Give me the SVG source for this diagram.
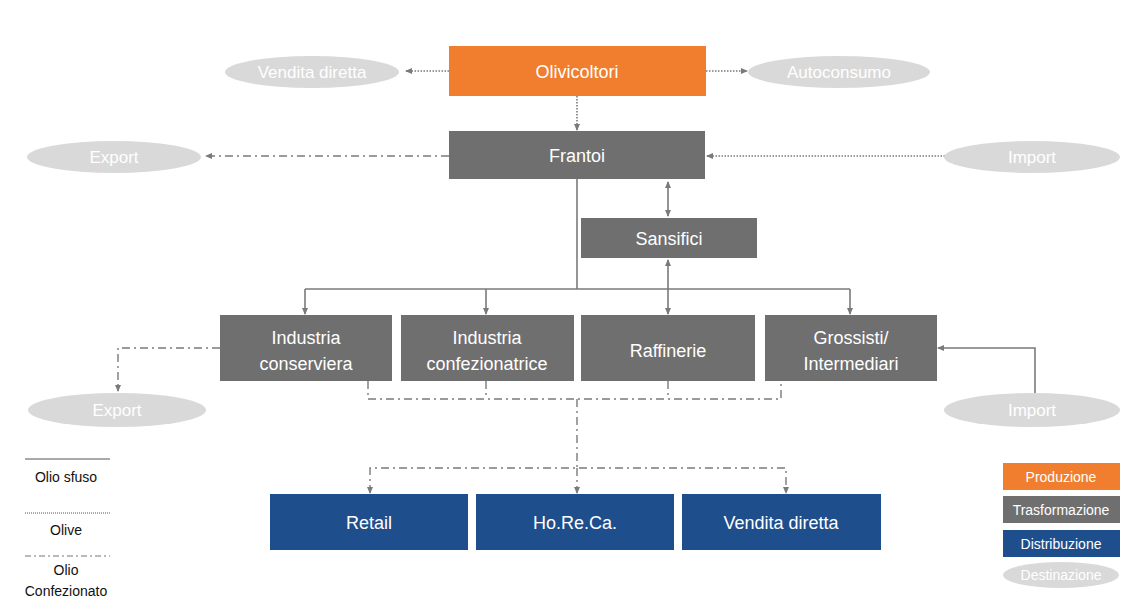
<svg xmlns="http://www.w3.org/2000/svg" width="1126" height="612" viewBox="0 0 1126 612">
<defs>
<marker id="ah" markerWidth="8" markerHeight="8" refX="6" refY="4" orient="auto-start-reverse" markerUnits="userSpaceOnUse">
<path d="M0,1 L7,4 L0,7 z" fill="#7a7a7a"/>
</marker>
<style>
.box text{font-family:"Liberation Sans",Arial,sans-serif;font-size:18px;fill:#fff;text-anchor:middle}
.o{fill:#f07e2e}.g{fill:#6f6f6f}.b{fill:#1f4e8d}.e{fill:#d9d9d9}
.et{font-family:"Liberation Sans",Arial,sans-serif;font-size:17px;fill:#fff;text-anchor:middle}
.solid{stroke:#7a7a7a;stroke-width:1.6;fill:none}
.dot{stroke:#7a7a7a;stroke-width:1.6;fill:none;stroke-dasharray:1.5 1.5}
.dd{stroke:#7a7a7a;stroke-width:1.4;fill:none;stroke-dasharray:8 4 2 4}
.lt{font-family:"Liberation Sans",Arial,sans-serif;font-size:14px;fill:#111;text-anchor:middle}
.lg text{font-family:"Liberation Sans",Arial,sans-serif;font-size:14px;fill:#fff;text-anchor:middle}
</style>
</defs>
<rect width="1126" height="612" fill="#fff"/>

<g id="connectors">
<line class="dot" x1="449" y1="71" x2="406" y2="71" marker-end="url(#ah)"/>
<line class="dot" x1="706" y1="71" x2="747" y2="71" marker-end="url(#ah)"/>
<line class="dot" x1="577" y1="96" x2="577" y2="130" marker-end="url(#ah)"/>
<line class="dd" x1="449" y1="156" x2="206" y2="156" marker-end="url(#ah)"/>
<line class="dot" x1="945" y1="156" x2="707" y2="156" marker-end="url(#ah)"/>
<line class="solid" x1="668" y1="182" x2="668" y2="216" marker-start="url(#ah)" marker-end="url(#ah)"/>
<polyline class="solid" points="577,179 577,289"/>
<line class="solid" x1="305" y1="289" x2="850" y2="289"/>
<line class="solid" x1="305" y1="289" x2="305" y2="314" marker-end="url(#ah)"/>
<line class="solid" x1="486" y1="289" x2="486" y2="314" marker-end="url(#ah)"/>
<line class="solid" x1="668" y1="289" x2="668" y2="314" marker-end="url(#ah)"/>
<line class="solid" x1="668" y1="289" x2="668" y2="260" marker-end="url(#ah)"/>
<line class="solid" x1="850" y1="289" x2="850" y2="314" marker-end="url(#ah)"/>
<polyline class="dd" points="220,348 118,348 118,391" marker-end="url(#ah)"/>
<polyline class="solid" points="1035,393 1035,348 938,348" marker-end="url(#ah)"/>
<polyline class="dd" points="368,381 368,399 781,399 781,381"/>
<line class="dd" x1="486" y1="381" x2="486" y2="399"/>
<line class="dd" x1="668" y1="381" x2="668" y2="399"/>
<line class="dd" x1="577" y1="399" x2="577" y2="468"/>
<polyline class="dd" points="370,493 370,468 786,468 786,493" marker-start="url(#ah)" marker-end="url(#ah)"/>
<line class="dd" x1="577" y1="468" x2="577" y2="493" marker-end="url(#ah)"/>
</g>

<g id="olivicoltori" class="box"><rect class="o" x="449" y="46" width="257" height="50"/><text x="577" y="78">Olivicoltori</text></g>
<g id="frantoi" class="box"><rect class="g" x="449" y="131" width="256" height="48"/><text x="577" y="162">Frantoi</text></g>
<g id="sansifici" class="box"><rect class="g" x="581" y="218" width="176" height="40"/><text x="669" y="245">Sansifici</text></g>
<g id="industria-conserviera" class="box"><rect class="g" x="220" y="315" width="172" height="66"/><text x="306" y="344">Industria</text><text x="306" y="370">conserviera</text></g>
<g id="industria-confezionatrice" class="box"><rect class="g" x="401" y="315" width="173" height="66"/><text x="487" y="344">Industria</text><text x="487" y="370">confezionatrice</text></g>
<g id="raffinerie" class="box"><rect class="g" x="581" y="315" width="174" height="66"/><text x="668" y="357">Raffinerie</text></g>
<g id="grossisti" class="box"><rect class="g" x="765" y="315" width="172" height="66"/><text x="851" y="344">Grossisti/</text><text x="851" y="370">Intermediari</text></g>
<g id="retail" class="box"><rect class="b" x="270" y="494" width="198" height="56"/><text x="369" y="529">Retail</text></g>
<g id="horeca" class="box"><rect class="b" x="476" y="494" width="198" height="56"/><text x="575" y="529">Ho.Re.Ca.</text></g>
<g id="vendita-diretta-dist" class="box"><rect class="b" x="682" y="494" width="199" height="56"/><text x="781" y="529">Vendita diretta</text></g>

<g id="dest-vendita-diretta"><ellipse class="e" cx="312" cy="72" rx="87" ry="16"/><text class="et" x="312" y="78">Vendita diretta</text></g>
<g id="dest-autoconsumo"><ellipse class="e" cx="839" cy="72" rx="91" ry="16"/><text class="et" x="839" y="78">Autoconsumo</text></g>
<g id="dest-export-1"><ellipse class="e" cx="114" cy="157" rx="87" ry="16"/><text class="et" x="114" y="163">Export</text></g>
<g id="dest-import-1"><ellipse class="e" cx="1032" cy="157" rx="88" ry="16"/><text class="et" x="1032" y="163">Import</text></g>
<g id="dest-export-2"><ellipse class="e" cx="117" cy="410" rx="89" ry="17"/><text class="et" x="117" y="416">Export</text></g>
<g id="dest-import-2"><ellipse class="e" cx="1032" cy="410" rx="88" ry="17"/><text class="et" x="1032" y="416">Import</text></g>

<g id="legend-lines">
<line x1="25" y1="459" x2="110" y2="459" stroke="#555" stroke-width="1.2"/>
<text class="lt" x="66" y="482">Olio sfuso</text>
<line x1="25" y1="513" x2="110" y2="513" stroke="#555" stroke-width="1.2" stroke-dasharray="1 1"/>
<text class="lt" x="66" y="535">Olive</text>
<line x1="25" y1="556" x2="110" y2="556" stroke="#777" stroke-width="1.2" stroke-dasharray="6 3 2 3"/>
<text class="lt" x="66" y="575">Olio</text>
<text class="lt" x="66" y="596">Confezionato</text>
</g>
<g id="legend-colors" class="lg">
<rect class="o" x="1003" y="463" width="117" height="27"/><text x="1061" y="482">Produzione</text>
<rect class="g" x="1003" y="496" width="117" height="27"/><text x="1061" y="515">Trasformazione</text>
<rect class="b" x="1003" y="530" width="117" height="27"/><text x="1061" y="549">Distribuzione</text>
<ellipse class="e" cx="1061" cy="575" rx="58" ry="13"/><text x="1061" y="580">Destinazione</text>
</g>
</svg>
